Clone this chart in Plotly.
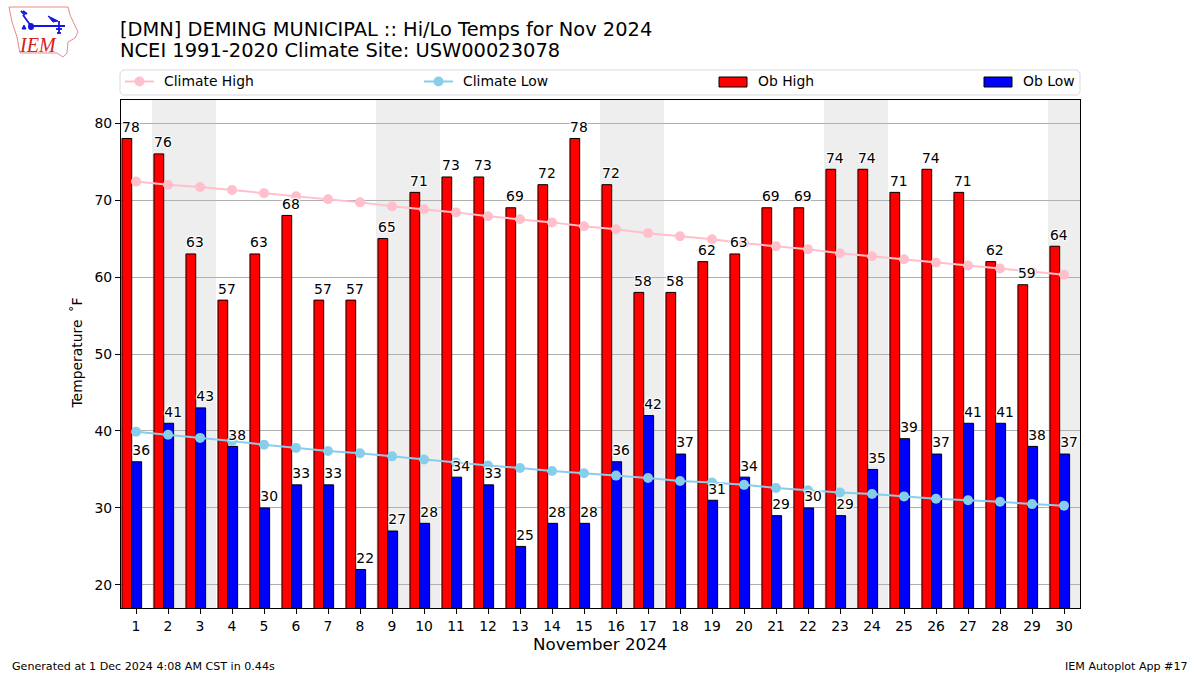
import plotly.graph_objects as go

days = list(range(1, 31))
ob_high = [78,76,63,57,63,68,57,57,65,71,73,73,69,72,78,72,58,58,62,63,69,69,74,74,71,74,71,62,59,64]
ob_low = [36,41,43,38,30,33,33,22,27,28,34,33,25,28,28,36,42,37,31,34,29,30,29,35,39,37,41,41,38,37]
climate_high = [72.4,72.0,71.7,71.3,70.9,70.5,70.1,69.7,69.2,68.8,68.4,67.9,67.5,67.1,66.6,
                66.2,65.7,65.3,64.9,64.4,64.0,63.6,63.1,62.7,62.3,61.9,61.5,61.1,60.7,60.3]
climate_low = [39.9,39.5,39.1,38.7,38.2,37.8,37.4,37.1,36.7,36.3,35.9,35.5,35.2,34.8,34.5,
               34.2,33.9,33.5,33.3,33.0,32.6,32.3,32.0,31.8,31.5,31.2,31.0,30.8,30.5,30.3]
weekend_spans = [(1.5, 3.5), (8.5, 10.5), (15.5, 17.5), (22.5, 24.5), (29.5, 30.5)]

FONT = "DejaVu Sans"
W, H = 1200, 675
L, R, T, B = 121, 1080, 100, 608
HALO = "1px 1px 1px #fff, -1px -1px 1px #fff, 1px -1px 1px #fff, -1px 1px 1px #fff"


def px(x):
    return (x - L) / (R - L)


def py(y):
    return (B - y) / (B - T)


def path(points, close=True):
    s = " ".join(("M" if i == 0 else "L") + f"{px(x):.5f},{py(y):.5f}" for i, (x, y) in enumerate(points))
    return s + (" Z" if close else "")


fig = go.Figure()
fig.add_trace(go.Bar(x=days, y=ob_high, offset=-0.44, width=0.305, marker=dict(color="#ff0000", line=dict(color="black", width=1)), name="Ob High", showlegend=False))
fig.add_trace(go.Bar(x=days, y=ob_low, offset=-0.135, width=0.31, marker=dict(color="#0000ff", line=dict(color="black", width=1)), name="Ob Low", showlegend=False))
fig.add_trace(go.Scatter(x=days, y=climate_high, mode="lines+markers", line=dict(color="#ffc0cb", width=2), marker=dict(color="#ffc0cb", size=10), name="Climate High", showlegend=False))
fig.add_trace(go.Scatter(x=days, y=climate_low, mode="lines+markers", line=dict(color="#87ceeb", width=2), marker=dict(color="#87ceeb", size=10), name="Climate Low", showlegend=False))
for vals, shift in ((ob_high, -0.16), (ob_low, 0.16)):
    fig.add_trace(go.Scatter(x=[d + shift for d in days], y=[v + 0.4 for v in vals], mode="text", text=[str(v) for v in vals],
                             textposition="top center", textfont=dict(family=FONT, size=13.9, color="black", shadow=HALO),
                             showlegend=False, hoverinfo="skip", cliponaxis=False))

shapes = []
for a, b in weekend_spans:
    shapes.append(dict(type="rect", xref="x", yref="paper", x0=a, x1=b, y0=0, y1=1, fillcolor="#eeeeee", line_width=0, layer="below"))

# legend frame and keys
shapes.append(dict(type="path", xref="paper", yref="paper", layer="above",
                   path=path([(123, 70), (1077, 70), (1080, 73), (1080, 92), (1077, 95), (123, 95), (120, 92), (120, 73)]),
                   line=dict(color="#d9d9d9", width=1), fillcolor="white"))
for x0, color in ((125, "#ffc0cb"), (424, "#87ceeb")):
    shapes.append(dict(type="line", xref="paper", yref="paper", layer="above", x0=px(x0), x1=px(x0 + 29), y0=py(81.5), y1=py(81.5), line=dict(color=color, width=2)))
    shapes.append(dict(type="circle", xref="paper", yref="paper", layer="above", x0=px(x0 + 9.5), x1=px(x0 + 19.5), y0=py(76.5), y1=py(86.5), fillcolor=color, line_width=0))
for x0, color in ((719, "#ff0000"), (984, "#0000ff")):
    shapes.append(dict(type="rect", xref="paper", yref="paper", layer="above", x0=px(x0), x1=px(x0 + 28), y0=py(77), y1=py(87), fillcolor=color, line=dict(color="black", width=1)))

# logo
outline = [(9, 7), (68, 7), (70, 15), (78, 32), (75, 38), (68, 42), (67, 53), (63, 57), (57, 53), (20, 53), (17, 37), (12, 22)]
shapes.append(dict(type="path", xref="paper", yref="paper", path=path(outline), line=dict(color="#e88a8a", width=1), fillcolor="white"))
blue_bits = [
    [(31, 26), (65, 26)],
    [(31, 26), (23, 15)],
    [(21, 11), (25, 15)],
    [(23, 11), (27, 14)],
    [(59, 21), (59, 33)],
    [(56, 29), (62, 29)],
    [(57, 33), (61, 33)],
]
for seg in blue_bits:
    shapes.append(dict(type="path", xref="paper", yref="paper", path=path(seg, close=False), line=dict(color="#1414e0", width=1.8)))
shapes.append(dict(type="path", xref="paper", yref="paper", path=path([(48, 16), (58, 21), (53, 22)]), line=dict(color="#1414e0", width=1), fillcolor="#1414e0"))
shapes.append(dict(type="circle", xref="paper", yref="paper", x0=px(28), x1=px(34), y0=py(23), y1=py(30), fillcolor="#1414e0", line_width=0))
shapes.append(dict(type="path", xref="paper", yref="paper", path=path([(24, 25), (26, 29), (22, 29)]), line=dict(color="#1414e0", width=1), fillcolor="#1414e0"))


def note(x, y, text, size, anchor="left", color="black", family=FONT, angle=0, yanchor="middle"):
    return dict(x=px(x), y=py(y), xref="paper", yref="paper", text=text, showarrow=False, xanchor=anchor, yanchor=yanchor,
                font=dict(family=family, size=size, color=color), textangle=angle, borderpad=0, borderwidth=0)


annotations = [
    note(120, 29, "[DMN] DEMING MUNICIPAL :: Hi/Lo Temps for Nov 2024", 19.4),
    note(120, 50.5, "NCEI 1991-2020 Climate Site: USW00023078", 19.45),
    note(164, 81, "Climate High", 13.9),
    note(463, 81, "Climate Low", 13.9),
    note(758, 81, "Ob High", 13.9),
    note(1023, 81, "Ob Low", 13.9),
    note(600, 644, "November 2024", 16.67, anchor="center"),
    note(76, 353.5, "Temperature\u2009 ˚F", 13.9, anchor="center", angle=-90),
    note(12, 666, "Generated at 1 Dec 2024 4:08 AM CST in 0.44s", 11.1),
    note(1188, 666, "IEM Autoplot App #17", 11.1, anchor="right"),
    note(37.5, 45, "<i>IEM</i>", 20, anchor="center", color="#d42020", family="Liberation Serif"),
]

axis_common = dict(showline=True, linecolor="black", linewidth=1, mirror=True, ticks="outside", ticklen=5, tickcolor="black",
                   tickwidth=1, tickfont=dict(family=FONT, size=13.9, color="black"), zeroline=False)
fig.update_layout(
    width=W, height=H, autosize=False,
    margin=dict(l=L, r=W - R, t=T, b=H - B, pad=0),
    paper_bgcolor="white", plot_bgcolor="white",
    barmode="overlay", showlegend=False,
    shapes=shapes, annotations=annotations,
    font=dict(family=FONT),
    xaxis=dict(range=[0.53, 30.5], tickmode="array", tickvals=days, ticktext=[str(d) for d in days], showgrid=False, **axis_common),
    yaxis=dict(range=[17, 83], tickmode="array", tickvals=[20, 30, 40, 50, 60, 70, 80], showgrid=True, gridcolor="#b0b0b0", gridwidth=1, **axis_common),
)

fig.write_html("out.html", config=dict(displayModeBar=False), post_script="document.body.style.margin='0';")
